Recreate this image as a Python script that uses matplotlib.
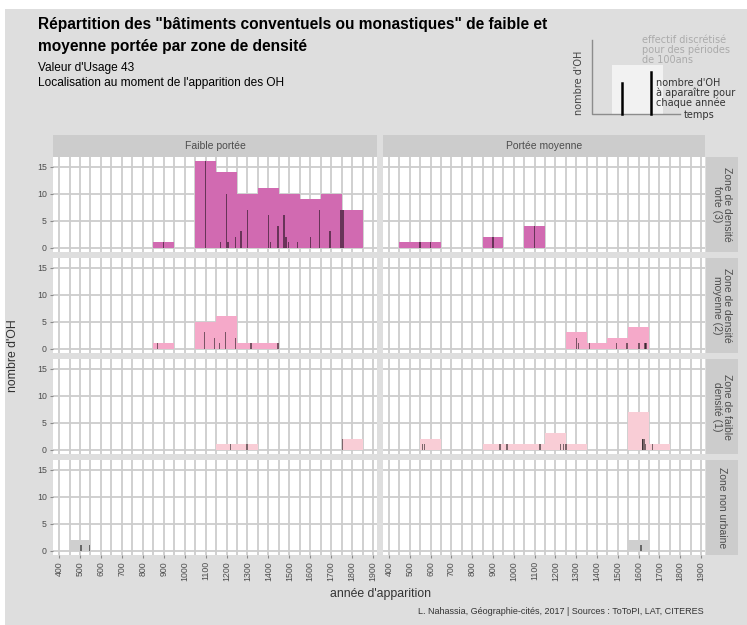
import numpy as np
import matplotlib.pyplot as plt
from matplotlib.patches import Rectangle

W, H = 747, 625
plt.rcParams['font.family'] = ['Liberation Sans', 'DejaVu Sans']

# bins of 100 years (centres) and yearly counts
# row 1 : zone de densite forte (3)
forte_faible_bins = [900, 1100, 1200, 1300, 1400, 1500, 1600, 1700, 1800]
forte_faible_vals = [1, 16, 14, 10, 11, 10, 9, 10, 7]
forte_faible_years = [900, 1100, 1172, 1200, 1206, 1244, 1270, 1300, 1400, 1410,
                      1445, 1475, 1485, 1495, 1540, 1600, 1644, 1695, 1746, 1756]
forte_faible_counts = [1, 16, 1, 10, 1, 2, 3, 7, 6, 1, 4, 6, 2, 1, 1, 2, 7, 3, 7, 7]

forte_moy_bins = [500, 600, 900, 1100]
forte_moy_vals = [1, 1, 2, 4]
forte_moy_years = [548, 600, 900, 1100]
forte_moy_counts = [1, 1, 2, 4]

# row 2 : zone de densite moyenne (2)
moyenne_faible_bins = [900, 1100, 1200, 1300, 1400]
moyenne_faible_vals = [1, 5, 6, 1, 1]
moyenne_faible_years = [870, 1094, 1142, 1166, 1196, 1244, 1316, 1445]
moyenne_faible_counts = [1, 3, 2, 1, 3, 2, 1, 1]

moyenne_moy_bins = [1300, 1400, 1500, 1600]
moyenne_moy_vals = [3, 1, 2, 4]
moyenne_moy_years = [1300, 1310, 1363, 1493, 1545, 1598, 1603, 1630, 1636]
moyenne_moy_counts = [2, 1, 1, 1, 1, 1, 1, 1, 1]

# row 3 : zone de faible densite (1)
faible_faible_bins = [1200, 1300, 1800]
faible_faible_vals = [1, 1, 2]
faible_faible_years = [1220, 1297, 1755]
faible_faible_counts = [1, 1, 2]

faible_moy_bins = [600, 900, 1000, 1100, 1200, 1300, 1600, 1700]
faible_moy_vals = [2, 1, 1, 1, 3, 1, 7, 1]
faible_moy_years = [560, 570, 933, 968, 1125, 1225, 1240, 1248, 1252,
                    1618, 1622, 1627, 1632, 1667]
faible_moy_counts = [1, 1, 1, 1, 1, 1, 1, 1, 1, 2, 2, 2, 1, 1]

# row 4 : zone non urbaine
non_faible_bins = [500]
non_faible_vals = [2]
non_faible_years = [505, 545]
non_faible_counts = [1, 1]

non_moy_bins = [1600]
non_moy_vals = [2]
non_moy_years = [1610, 1613]
non_moy_counts = [1, 1]

col_labels = ['Faible portée', 'Portée moyenne']
row_labels = ['Zone de densité\nforte (3)', 'Zone de densité\nmoyenne (2)',
              'Zone de faible\ndensité (1)', 'Zone non urbaine']
row_colors = ['#d16ab1', '#f5a9c9', '#f9cdd6', '#cfcfcf']
x_ticks = list(range(400, 2000, 100))

panels = [
    [(forte_faible_bins, forte_faible_vals, forte_faible_years, forte_faible_counts),
     (forte_moy_bins, forte_moy_vals, forte_moy_years, forte_moy_counts)],
    [(moyenne_faible_bins, moyenne_faible_vals, moyenne_faible_years, moyenne_faible_counts),
     (moyenne_moy_bins, moyenne_moy_vals, moyenne_moy_years, moyenne_moy_counts)],
    [(faible_faible_bins, faible_faible_vals, faible_faible_years, faible_faible_counts),
     (faible_moy_bins, faible_moy_vals, faible_moy_years, faible_moy_counts)],
    [(non_faible_bins, non_faible_vals, non_faible_years, non_faible_counts),
     (non_moy_bins, non_moy_vals, non_moy_years, non_moy_counts)],
]

fig = plt.figure(figsize=(W / 100, H / 100), dpi=100, facecolor='white')
fig.patches.append(Rectangle((5 / W, 0), 1 - 5 / W, 1 - 9 / H, transform=fig.transFigure,
                             facecolor='#dedede', edgecolor='none', zorder=-10))


def px_axes(x0, y0, x1, y1, **kw):
    return fig.add_axes([x0 / W, 1 - y1 / H, (x1 - x0) / W, (y1 - y0) / H], **kw)


cols = [(53, 377), (383, 705)]
rows = [(157, 252), (258, 353), (359, 454), (460, 555)]
grey_txt = '#4d4d4d'

for i, (y0, y1) in enumerate(rows):
    for j, (x0, x1) in enumerate(cols):
        bins, vals, years, counts = panels[i][j]
        ax = px_axes(x0, y0, x1, y1, facecolor='white')
        ax.bar(bins, vals, width=100, color=row_colors[i], zorder=2)
        ax.bar(years, counts, width=7, color='black', alpha=0.5, zorder=3)
        ax.set_xlim(371, 1919)
        ax.set_ylim(-0.8, 16.8)
        ax.set_xticks(x_ticks)
        ax.set_xticks(range(450, 1900, 100), minor=True)
        ax.set_yticks([0, 5, 10, 15])
        ax.grid(which='both', color='#cdcdcd', lw=1.3, zorder=0)
        ax.set_axisbelow(True)
        for s in ax.spines.values():
            s.set_visible(False)
        ax.tick_params(which='minor', length=0)
        ax.tick_params(which='major', length=2.5, color='#8a8a8a', width=0.8,
                       labelsize=6.3, labelcolor=grey_txt, pad=2)
        if j == 0:
            ax.set_yticklabels(['0', '5', '10', '15'])
        else:
            ax.tick_params(axis='y', length=0, labelleft=False)
        if i == len(rows) - 1:
            ax.set_xticklabels([str(v) for v in x_ticks], rotation=90, va='top')
        else:
            ax.tick_params(axis='x', length=0, labelbottom=False)

    # right strip
    sx = px_axes(706, y0, 738, y1, facecolor='#cccccc')
    sx.set_xticks([]); sx.set_yticks([])
    for s in sx.spines.values():
        s.set_visible(False)
    sx.text(0.5, 0.5, row_labels[i], rotation=-90, ha='center', va='center',
            fontsize=7.5, color=grey_txt, transform=sx.transAxes, linespacing=1.0)

for j, (x0, x1) in enumerate(cols):
    st = px_axes(x0, 135, x1, 157, facecolor='#cccccc')
    st.set_xticks([]); st.set_yticks([])
    for s in st.spines.values():
        s.set_visible(False)
    st.text(0.5, 0.5, col_labels[j], ha='center', va='center', fontsize=7.5,
            color=grey_txt, transform=st.transAxes)

# overlay in pixel coordinates for titles and the small legend sketch
ov = fig.add_axes([0, 0, 1, 1], facecolor='none')
ov.set_xlim(0, W)
ov.set_ylim(H, 0)
ov.axis('off')

ov.text(38, 25, 'Répartition des "bâtiments conventuels ou monastiques" de faible et',
        fontsize=11.2, fontweight='bold', va='center')
ov.text(38, 47, 'moyenne portée par zone de densité', fontsize=11.2, fontweight='bold',
        va='center')
ov.text(38, 68, "Valeur d'Usage 43", fontsize=8.6, va='center')
ov.text(38, 83, "Localisation au moment de l'apparition des OH", fontsize=8.6,
        va='center')

ov.text(380, 594, "année d'apparition", fontsize=8.8, ha='center', va='center', color='#333333')
ov.text(13, 356, "nombre d'OH", fontsize=8.8, ha='center', va='center', rotation=90,
        color='#333333')
ov.text(704, 611, 'L. Nahassia, Géographie-cités, 2017 | Sources : ToToPI, LAT, CITERES',
        fontsize=6.5, ha='right', va='center', color='#333333')

# legend sketch (top right)
lf = 'DejaVu Sans'
ov.add_patch(Rectangle((612, 65), 51, 49, facecolor='#f2f2f2', edgecolor='none'))
ov.plot([592, 592, 680], [40, 114, 114], color='#8c8c8c', lw=1)
ov.plot([622, 622], [114, 83], color='black', lw=1.8)
ov.plot([651, 651], [114, 72], color='black', lw=1.8)
ov.text(642, 35, 'effectif discrétisé\npour des périodes\nde 100ans', fontsize=7,
        color='#ababab', va='top', ha='left', family=lf, linespacing=0.95)
ov.text(656, 93, "nombre d'OH\nà aparaître pour\nchaque année", fontsize=7,
        color='#333333', va='center', ha='left', family=lf, linespacing=0.9)
ov.text(684, 115, 'temps', fontsize=7, color='#333333', va='center', ha='left', family=lf)
ov.text(579, 83, "nombre d'OH", fontsize=7, color='#444444', va='center', ha='center',
        rotation=90, family=lf)

fig.savefig('out.png', dpi=100, facecolor=fig.get_facecolor())
